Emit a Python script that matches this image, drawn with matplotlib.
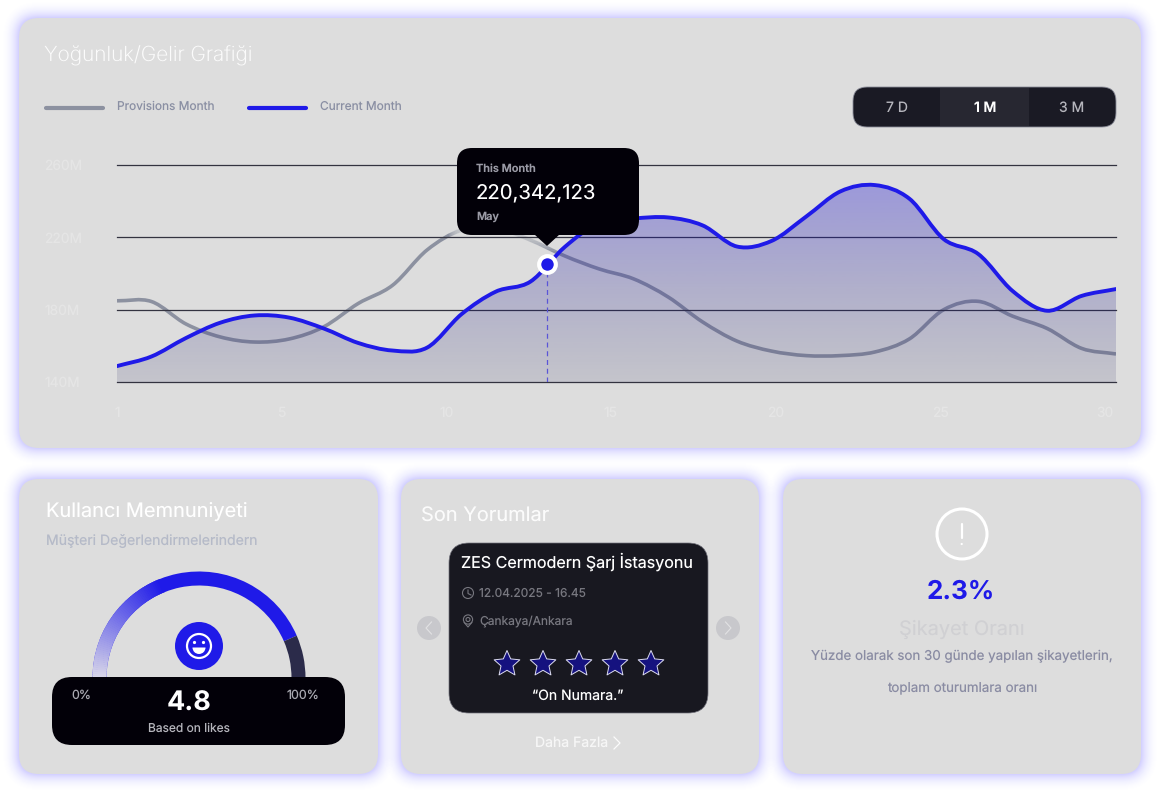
import matplotlib
matplotlib.use('Agg')
import matplotlib.pyplot as plt
import numpy as np
from matplotlib.patches import FancyBboxPatch, PathPatch, Circle, Wedge, Polygon, Rectangle
from matplotlib.path import Path

plt.rcParams['font.family'] = ['Inter', 'DejaVu Sans']
plt.rcParams['text.hinting'] = 'no_hinting'

# chart values (millions), one per day
days = list(range(1, 31))
provisions_month = [184.9, 184.5, 172.1, 164.9, 162.1, 163.8, 170.5, 183.4, 193.5, 213.0,
                    224.0, 225.2, 218.5, 209.7, 202.5, 197.0, 187.0, 173.2, 162.6, 157.1,
                    154.6, 154.6, 156.6, 163.8, 180.0, 184.6, 176.4, 169.6, 158.6, 155.5]
current_month = [148.8, 154.1, 164.3, 172.8, 176.8, 175.6, 169.6, 161.6, 157.4, 159.0,
                 177.5, 190.0, 195.5, 214.7, 228.0, 230.4, 231.0, 226.6, 214.9, 218.0,
                 231.4, 245.4, 248.9, 241.4, 219.0, 210.8, 190.3, 179.4, 187.6, 191.4]
y_ticks = [140, 180, 220, 260]
y_labels = ['140M', '180M', '220M', '260M']
x_labels = ['1', '5', '10', '15', '20', '25', '30']
marker_day = 13.48
marker_value = 205.0
periods = ['7 D', '1 M', '3 M']
star_count = 5
gauge_share = 0.87

BLUE = '#1f1ae8'
GREY = '#8c91a0'
CARD = '#dddddd'
INK = '#020008'
PANEL = '#181820'


def px_font(px):
    return px * 0.72


def smooth_path(xs, ys, close_to=None):
    """Catmull-Rom through the points, as bezier segments."""
    pts = np.column_stack([xs, ys])
    verts = [pts[0]]
    codes = [Path.MOVETO]
    for i in range(len(pts) - 1):
        p1 = pts[i]
        p2 = pts[i + 1]
        p0 = pts[i - 1] if i > 0 else 2 * p1 - p2
        p3 = pts[i + 2] if i + 2 < len(pts) else 2 * p2 - p1
        verts += [p1 + (p2 - p0) / 6, p2 - (p3 - p1) / 6, p2]
        codes += [Path.CURVE4] * 3
    if close_to is not None:
        verts += [(xs[-1], close_to), (xs[0], close_to), pts[0]]
        codes += [Path.LINETO, Path.LINETO, Path.CLOSEPOLY]
    return Path(verts, codes)


def rounded(ax, x0, y0, x1, y1, r, **kw):
    box = FancyBboxPatch((x0 + r, y0 + r), x1 - x0 - 2 * r, y1 - y0 - 2 * r,
                         boxstyle=f'round,pad={r},rounding_size={r}', **kw)
    ax.add_patch(box)
    return box


def card(ax, x0, y0, x1, y1, r=20):
    for i in range(16, 0, -1):
        a = 0.004 + 0.045 * (1 - i / 16) ** 2
        rounded(ax, x0 - i, y0 - i, x1 + i, y1 + i, r + i, fc='#6f62ff', ec='none', alpha=a)
    rounded(ax, x0, y0, x1, y1, r, fc=CARD, ec='none')


fig = plt.figure(figsize=(11.6, 7.95), dpi=100, facecolor='white')

bg = fig.add_axes([0, 0, 1, 1], zorder=0)
bg.set_xlim(0, 1160)
bg.set_ylim(795, 0)
bg.axis('off')

card(bg, 19, 18, 1141, 448)
card(bg, 19, 479, 378, 774)
card(bg, 401, 479, 759, 774)
card(bg, 783, 479, 1141, 774)

# top card header
bg.text(44, 56, 'Yoğunluk/Gelir Grafiği', color='white', alpha=0.9, fontsize=px_font(20.8),
        va='center', fontweight='light')
bg.plot([46, 103], [108, 108], color=GREY, lw=3, solid_capstyle='round')
bg.text(117, 107, 'Provisions Month', color='#8a8fa3', fontsize=px_font(11.9), va='center')
bg.plot([249, 306], [108, 108], color=BLUE, lw=3, solid_capstyle='round')
bg.text(320, 107, 'Current Month', color='#8a8fa3', fontsize=px_font(11.9), va='center')

# period switch
rounded(bg, 853, 87, 1116, 127, 14, fc='#1a1a24', ec='#8a8c98', lw=0.6)
bg.add_patch(Rectangle((940, 88), 89, 38, fc='#272731', ec='none'))
for name, cx in zip(periods, [897, 985, 1072]):
    selected = name == '1 M'
    bg.text(cx, 108, name, color='white' if selected else '#b5b5bc', ha='center', va='center',
            fontsize=px_font(14), fontweight='semibold' if selected else 'normal')

# overlay: tooltip and the lower cards
top = fig.add_axes([0, 0, 1, 1], zorder=2)
top.set_xlim(0, 1160)
top.set_ylim(795, 0)
top.axis('off')
top.patch.set_alpha(0)

# main chart
ax = fig.add_axes([117 / 1160, 1 - 382 / 795, 999 / 1160, 217 / 795], zorder=1)
ax.patch.set_alpha(0)
ax.set_xlim(days[0], days[-1])
ax.set_ylim(y_ticks[0], y_ticks[-1])
for s in ax.spines.values():
    s.set_visible(False)
ax.set_yticks(y_ticks, y_labels)
ax.set_xticks(np.linspace(days[0], 29.68, len(x_labels)), x_labels)
ax.tick_params(axis='both', length=0, colors='#e5e5e5', labelsize=px_font(13.8))
ax.tick_params(axis='y', pad=52.5)
for lab in ax.get_yticklabels():
    lab.set_ha('left')
ax.tick_params(axis='x', pad=18)
ax.set_axisbelow(False)
ax.grid(axis='y', color='#333340', lw=0.9, zorder=4)
for line in ax.get_ygridlines():
    line.set_clip_on(False)

ax.add_patch(PathPatch(smooth_path(days, provisions_month), fc='none', ec=GREY, lw=2.6, zorder=2))

# the tooltip's soft halo washes out the grey line
for i in range(8, 0, -1):
    rounded(ax, 457 - i, 150, 639 + i, 235 + i * 2, 15, fc=CARD, ec='none', alpha=0.14,
            transform=top.transData, zorder=2.5)

# gradient under the current month curve
grad = np.zeros((256, 1, 4))
t = np.linspace(0, 1, 256)
grad[:, 0, 0] = (40 * (1 - t) + 30 * t) / 255
grad[:, 0, 1] = (30 * (1 - t) + 30 * t) / 255
grad[:, 0, 2] = (215 * (1 - t) + 90 * t) / 255
grad[:, 0, 3] = 0.36 * (1 - t) + 0.13 * t
img = ax.imshow(grad, extent=[days[0], days[-1], y_ticks[0], 250], aspect='auto', origin='upper', zorder=3)
fill_patch = PathPatch(smooth_path(days, current_month, close_to=y_ticks[0]), fc='none', ec='none',
                       transform=ax.transData)
ax.add_patch(fill_patch)
img.set_clip_path(fill_patch)
ax.set_xlim(days[0], days[-1])
ax.set_ylim(y_ticks[0], y_ticks[-1])

ax.plot([marker_day, marker_day], [y_ticks[0], marker_value], color='#5a55d8', lw=0.9,
        ls=(0, (4, 3)), zorder=4)
ax.add_patch(PathPatch(smooth_path(days, current_month), fc='none', ec=BLUE, lw=2.8, zorder=5,
                       capstyle='round'))
ax.plot([marker_day], [marker_value], 'o', ms=12, mfc=BLUE, mec='white', mew=3, zorder=6)

rounded(top, 457, 148, 639, 235, 15, fc=INK, ec='none')
top.add_patch(Polygon([(534, 234), (560, 234), (547, 246)], fc=INK, ec='none'))
top.text(476, 169, 'This Month', color='#9a9aa5', fontsize=px_font(11), fontweight='semibold', va='center')
top.text(476, 193.5, '220,342,123', color='white', fontsize=px_font(20.3), va='center')
top.text(476, 216.5, 'May', color='#9a9aa5', fontsize=px_font(11), fontweight='semibold', va='center')

# satisfaction card
top.text(46, 511, 'Kullancı Memnuniyeti', color='white', fontsize=px_font(20), va='center')
top.text(46, 541.5, 'Müşteri Değerlendirmelerindern', color='#b5bac8', fontsize=px_font(14.1), va='center')

gx, gy, gr, gw = 199, 678, 106.5, 14
end_angle = 180 * (1 - gauge_share)
# y axis is flipped here, so the wedge angles are mirrored
top.add_patch(Wedge((gx, gy), gr, 180, 360 - end_angle, width=gw, fc=BLUE, ec='none'))
top.add_patch(Wedge((gx, gy), gr, 360 - end_angle, 360, width=gw, fc='#2b2b4a', ec='none'))
c_start = np.array([216, 214, 232]) / 255
c_end = np.array([31, 26, 232]) / 255
steps = 60
for i in range(steps):
    f = i / (steps - 1)
    a0 = 180 + 68 * i / steps
    top.add_patch(Wedge((gx, gy), gr, a0, a0 + 68 / steps + 0.4, width=gw,
                        fc=c_start * (1 - f) + c_end * f, ec='none'))

rounded(top, 52, 677, 345, 745, 20, fc=INK, ec='none')
top.text(71, 695, '0%', color='#a8a8b0', fontsize=px_font(12.4), va='center')
top.text(319, 695, '100%', color='#a8a8b0', fontsize=px_font(12.4), va='center', ha='right')
top.text(189, 704, '4.8', color='white', fontsize=px_font(27), va='center', ha='center', fontweight='bold')
top.text(189, 728.5, 'Based on likes', color='#b5b5bc', fontsize=px_font(12), va='center', ha='center')

top.add_patch(Circle((199, 646), 24, fc=BLUE, ec='none'))
top.add_patch(Circle((199, 646), 12, fc='none', ec='white', lw=1.6))
top.add_patch(Circle((194.5, 642.5), 1.6, fc='white', ec='none'))
top.add_patch(Circle((203.5, 642.5), 1.6, fc='white', ec='none'))
top.add_patch(Wedge((199, 647.5), 6.5, 0, 180, fc='white', ec='none'))

# reviews card
top.text(421, 516, 'Son Yorumlar', color='white', alpha=0.9, fontsize=px_font(20), va='center')
rounded(top, 449, 543, 708, 713, 20, fc=PANEL, ec='#70707a', lw=0.5)
top.text(461, 562, 'ZES Cermodern Şarj İstasyonu', color='white', fontsize=px_font(16.1), va='center')
top.add_patch(Circle((468, 593), 5.5, fc='none', ec='#77777f', lw=0.8))
top.plot([468, 468, 471], [590, 593.5, 595], color='#77777f', lw=0.8)
top.text(479, 593.5, '12.04.2025 - 16.45', color='#77777f', fontsize=px_font(12), va='center')
top.add_patch(Circle((468, 619.5), 2, fc='none', ec='#77777f', lw=0.8))
top.add_patch(Circle((468, 619.5), 4.6, fc='none', ec='#77777f', lw=0.8))
top.plot([464.2, 468, 471.8], [622.5, 627, 622.5], color='#77777f', lw=0.8)
top.text(479, 621.5, 'Çankaya/Ankara', color='#77777f', fontsize=px_font(12), va='center')

for i in range(star_count):
    cx = 507 + 36 * i
    ang = -np.pi / 2 + np.arange(10) * np.pi / 5
    rad = np.where(np.arange(10) % 2 == 0, 13.5, 6.3)
    pts = np.column_stack([cx + rad * np.cos(ang), 664 + rad * np.sin(ang)])
    top.add_patch(Polygon(pts, closed=True, fc='#15127f', ec='#dcdcf0', lw=0.7, joinstyle='round'))
top.text(578, 696.5, '“On Numara.”', color='white', fontsize=px_font(14), va='center', ha='center')

for cx, sign in [(429, -1), (728, 1)]:
    top.add_patch(Circle((cx, 628), 12, fc='#c8c8cc', ec='none'))
    top.plot([cx - 2.5 * sign, cx + 3 * sign, cx - 2.5 * sign], [622, 628, 634], color='#e2e2e4', lw=0.8)
top.text(535, 743.5, 'Daha Fazla', color='white', alpha=0.75, fontsize=px_font(14), va='center')
top.plot([614, 620, 614], [737, 743, 749], color='white', alpha=0.9, lw=0.9)

# complaint card
top.add_patch(Circle((962, 534), 25, fc='none', ec='white', lw=2.2))
top.plot([961.7, 961.7], [524, 538], color='white', lw=1.6, solid_capstyle='round')
top.add_patch(Circle((961.7, 544), 1.1, fc='white', ec='none'))
top.text(961, 592, '2.3%', color=BLUE, fontsize=px_font(26), va='center', ha='center', fontweight='bold')
top.text(962, 629, 'Şikayet Oranı', color='#d0d0d3', fontsize=px_font(20), va='center', ha='center')
top.text(962, 656.5, 'Yüzde olarak son 30 günde yapılan şikayetlerin,', color='#8a8ca3',
         fontsize=px_font(13.35), va='center', ha='center')
top.text(962, 688.5, 'toplam oturumlara oranı', color='#8a8ca3', fontsize=px_font(13.35), va='center', ha='center')

fig.savefig('out.png', dpi=100)
